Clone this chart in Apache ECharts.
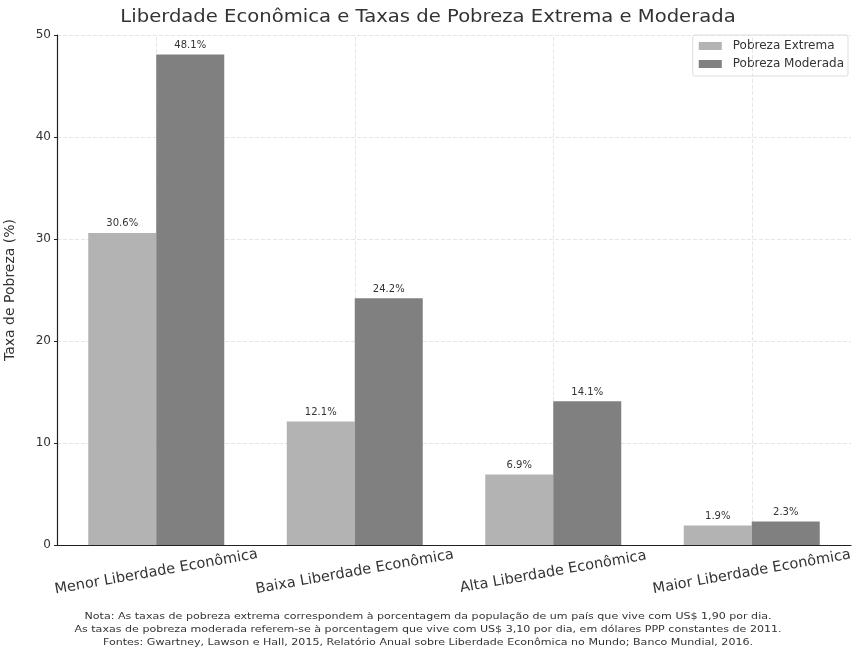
<!DOCTYPE html>
<html><head><meta charset="utf-8">
<script src="https://cdn.jsdelivr.net/npm/echarts@6/dist/echarts.min.js"></script>
<style>html,body{margin:0;padding:0;background:#fff}#c{width:856px;height:649px}</style>
</head><body><div id="c"></div>
<script>
const categories = ['Menor Liberdade Econômica', 'Baixa Liberdade Econômica', 'Alta Liberdade Econômica', 'Maior Liberdade Econômica'];
const extrema = [30.6, 12.1, 6.9, 1.9];
const moderada = [48.1, 24.2, 14.1, 2.3];
const yTicks = [0, 10, 20, 30, 40, 50];
const titleText = 'Liberdade Econômica e Taxas de Pobreza Extrema e Moderada';
const notes = [
  'Nota: As taxas de pobreza extrema correspondem à porcentagem da população de um país que vive com US$ 1,90 por dia.',
  'As taxas de pobreza moderada referem-se à porcentagem que vive com US$ 3,10 por dia, em dólares PPP constantes de 2011.',
  'Fontes: Gwartney, Lawson e Hall, 2015, Relatório Anual sobre Liberdade Econômica no Mundo; Banco Mundial, 2016.'
];
const FONT = 'DejaVu Sans';
const chart = echarts.init(document.getElementById('c'), null, {renderer: 'canvas'});
const labelCfg = {show: true, position: 'top', distance: 4, fontFamily: FONT, fontSize: 10, color: '#333', formatter: p => p.value.toFixed(1) + '%'};
const gridLine = {color: '#e6e6e6', type: 'dashed', width: 1};
chart.setOption({
  animation: false,
  backgroundColor: '#fff',
  textStyle: {fontFamily: FONT},
  legend: {right: 8, top: 35, orient: 'vertical', icon: 'rect', itemWidth: 23, itemHeight: 8, itemGap: 6,
    padding: [5, 4, 6, 6], borderColor: '#ddd', borderWidth: 1, borderRadius: 2,
    textStyle: {fontFamily: FONT, fontSize: 12, color: '#333', padding: [0, 0, 0, 6]},
    data: ['Pobreza Extrema', 'Pobreza Moderada']},
  grid: {left: 57, right: 5, top: 35, bottom: 104, outerBoundsMode: 'none', containLabel: false},
  xAxis: {type: 'category', data: categories,
    axisLine: {lineStyle: {color: '#222', width: 1.2}},
    axisTick: {show: false},
    axisLabel: {rotate: 10, align: 'center', verticalAlign: 'middle', margin: 27, fontFamily: FONT, fontSize: 14.5, color: '#333'},
    splitLine: {show: false}},
  yAxis: {type: 'value', min: yTicks[0], max: yTicks[yTicks.length - 1], interval: 10,
    name: 'Taxa de Pobreza (%)', nameLocation: 'middle', nameGap: 40, nameRotate: 90,
    nameTextStyle: {fontFamily: FONT, fontSize: 14, color: '#333'},
    axisLine: {show: true, lineStyle: {color: '#222', width: 1.2}},
    axisTick: {show: true, length: 3, lineStyle: {color: '#222'}},
    axisLabel: {fontFamily: FONT, fontSize: 12, color: '#333', margin: 6},
    splitLine: {show: true, lineStyle: gridLine}},
  series: [
    {name: 'grid-x', type: 'line', data: [], z: 1, silent: true,
      markLine: {silent: true, symbol: 'none', label: {show: false}, lineStyle: gridLine,
        data: categories.map(c => ({xAxis: c}))}},
    {name: 'Pobreza Extrema', type: 'bar', data: extrema, barWidth: 68, barGap: '0%', zlevel: 1,
      itemStyle: {color: '#b3b3b3'}, label: labelCfg},
    {name: 'Pobreza Moderada', type: 'bar', data: moderada, barWidth: 68, zlevel: 1,
      itemStyle: {color: '#808080'}, label: labelCfg}
  ],
  graphic: [{type: 'text', x: 428, y: 8, scaleX: 1.12,
      style: {text: titleText, textAlign: 'center', fontFamily: FONT, fontSize: 17.5, fill: '#333'}}]
    .concat(notes.map((t, i) => ({type: 'text', x: 428, y: 612 + i * 13, scaleX: 1.23,
      style: {text: t, textAlign: 'center', fontFamily: FONT, fontSize: 9, fill: '#333'}})))
});
</script></body></html>
